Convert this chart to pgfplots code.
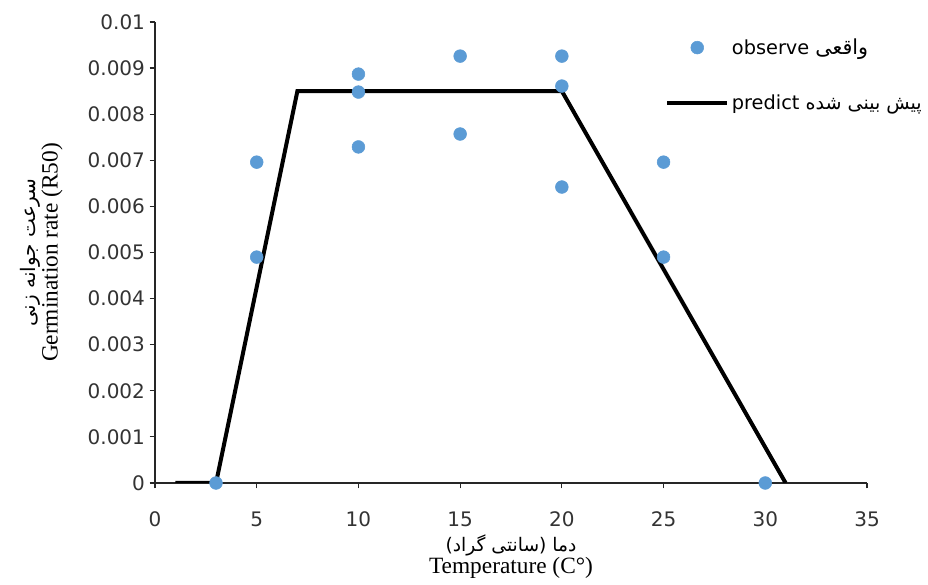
\documentclass[border=0pt]{standalone}
\usepackage{fontspec}
\setmainfont{DejaVu Sans}
\newfontfamily\tnr{Liberation Serif}
\newfontfamily\arabicfont[Script=Arabic]{DejaVu Sans}
\usepackage{pgfplots}
\pgfplotsset{compat=1.18}
\definecolor{obsblue}{HTML}{5B9BD5}

\begin{document}
\begin{tikzpicture}[x=0.75pt,y=0.75pt]
\begin{axis}[
  name=ax,
  width=534pt, height=345.75pt, scale only axis,
  xmin=0, xmax=35, ymin=0, ymax=0.01,
  xtick={0,5,10,15,20,25,30,35},
  ytick={0,0.001,0.002,0.003,0.004,0.005,0.006,0.007,0.008,0.009,0.01},
  axis x line*=bottom, axis y line*=left,
  tick align=outside, major tick length=4pt,
  axis line style={line width=0.9pt, color=black!85},
  every tick/.style={black!85, line width=0.9pt},
  scaled y ticks=false,
  yticklabel style={/pgf/number format/fixed, /pgf/number format/precision=3},
  xticklabel style={yshift=-14pt},
  /pgf/number format/assume math mode=true,
  ticklabel style={font=\fontsize{15}{15}\selectfont, color=black!80},
  % Persian words are written in visual (left to right) order
  xlabel={{\fontsize{14}{16}\selectfont (\arabicfont گراد\ سانتی\rmfamily) \arabicfont دما}\\{\tnr\fontsize{17.5}{21}\selectfont Temperature (C°)}},
  xlabel style={align=center, yshift=1pt},
  ylabel={{\arabicfont\fontsize{15}{16}\selectfont زنی\ جوانه\ سرعت}\\{\tnr\fontsize{17.5}{17}\selectfont Germination rate (R50)}},
  ylabel style={align=center, yshift=12pt},
  legend cell align=left,
  reverse legend,
  legend image code/.code={\draw[mark repeat=2,mark phase=2,#1] plot coordinates {(0pt,0pt)(22.5pt,0pt)(45pt,0pt)};},
  legend style={draw=none, fill=none, at={(axis cs:25.07,0.0097)}, anchor=north west,
    inner sep=0pt, row sep=25pt, font=\fontsize{14.5}{15}\selectfont},
]
\addplot[black, line width=3pt] coordinates {
  (1,0) (3,0) (7,0.0085) (20,0.0085) (31,0)
};
\addlegendentry{predict {\arabicfont\fontsize{14.3}{15}\selectfont شده\ بینی\ پیش}}
\addplot[only marks, mark=*, mark size=4.8pt, color=obsblue, mark options={fill=obsblue, draw=obsblue}] coordinates {
  (3,0) (5,0.00696) (5,0.0049) (10,0.00887) (10,0.00848) (10,0.00729)
  (15,0.00926) (15,0.00757) (20,0.00926) (20,0.00861) (20,0.00642)
  (25,0.00696) (25,0.0049) (30,0)
};
\addlegendentry{observe {\arabicfont\fontsize{15.5}{15}\selectfont واقعی}}
\end{axis}
\path (ax.south west) ++(-155,-102);
\path (ax.north east) ++(61,22);
\end{tikzpicture}
\end{document}
